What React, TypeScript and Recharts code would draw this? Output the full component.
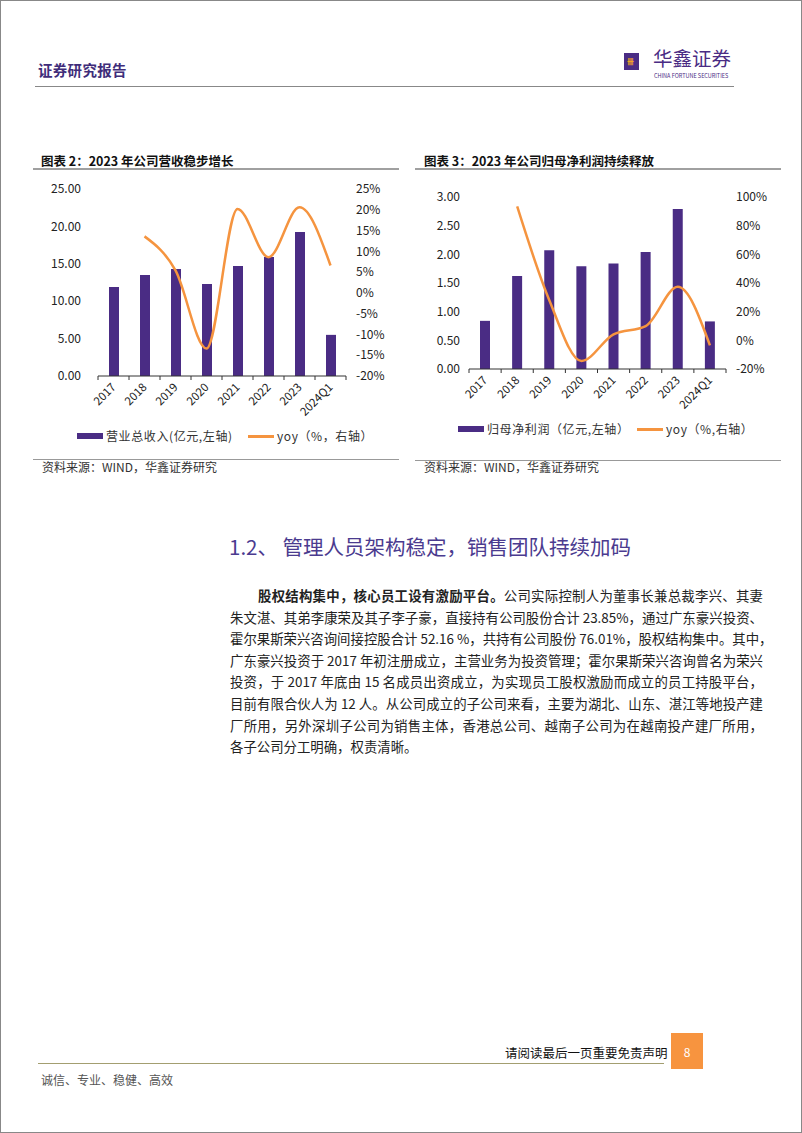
import React from "react";
import { Bar, ComposedChart, Line, XAxis, YAxis } from "recharts";

const categories = ["2017", "2018", "2019", "2020", "2021", "2022", "2023", "2024Q1"];

// 图表2：营业总收入（亿元）与同比
const revenue = [11.9, 13.5, 14.3, 12.3, 14.7, 15.9, 19.25, 5.5];
const revenueYoy = [null, 13.6, 5.4, -13.4, 20.2, 8.6, 20.6, 6.6];
const revenueTicks = [0, 5, 10, 15, 20, 25];
const revenueYoyTicks = [-20, -15, -10, -5, 0, 5, 10, 15, 20, 25];

// 图表3：归母净利润（亿元）与同比
const profit = [0.84, 1.62, 2.07, 1.79, 1.84, 2.04, 2.79, 0.83];
const profitYoy = [null, 93.4, 28, -14.4, 4.2, 9.9, 37.3, -3.5];
const profitTicks = [0, 0.5, 1, 1.5, 2, 2.5, 3];
const profitYoyTicks = [-20, 0, 20, 40, 60, 80, 100];

const PURPLE = "#4a2c84";
const ORANGE = "#f5943f";
const FONT = "'Noto Sans CJK SC', 'Noto Sans', sans-serif";

const paragraphLines = [
  "朱文湛、其弟李康荣及其子李子豪，直接持有公司股份合计 23.85%，通过广东豪兴投资、",
  "霍尔果斯荣兴咨询间接控股合计 52.16 %，共持有公司股份 76.01%，股权结构集中。其中，",
  "广东豪兴投资于 2017 年初注册成立，主营业务为投资管理；霍尔果斯荣兴咨询曾名为荣兴",
  "投资，于 2017 年底由 15 名成员出资成立，为实现员工股权激励而成立的员工持股平台，",
  "目前有限合伙人为 12 人。从公司成立的子公司来看，主要为湖北、山东、湛江等地投产建",
  "厂所用，另外深圳子公司为销售主体，香港总公司、越南子公司为在越南投产建厂所用，",
];

const makeXTick = (band: number, count: number) => (props: any) => {
  const { x, y, payload, index } = props;
  const tx = x + 3;
  const ty = y + 12;
  return (
    <g>
      <line x1={x - band / 2} x2={x - band / 2} y1={y} y2={y + 4} stroke="#333" />
      {index === count - 1 && (
        <line x1={x + band / 2} x2={x + band / 2} y1={y} y2={y + 4} stroke="#333" />
      )}
      <text
        x={tx}
        y={ty}
        transform={`rotate(-45 ${tx} ${ty})`}
        textAnchor="end"
        fontSize={11.5}
        fontFamily={FONT}
        fill="#222"
      >
        {payload.value}
      </text>
    </g>
  );
};

type ComboProps = {
  values: number[];
  yoy: (number | null)[];
  leftTicks: number[];
  rightTicks: number[];
  width: number;
  height: number;
  marginTop: number;
  leftWidth: number;
  leftOffset: number;
  decimals: number;
};

function ComboChart(p: ComboProps) {
  const data = categories.map((name, i) => ({ name, value: p.values[i], yoy: p.yoy[i] }));
  const band = (p.width - p.leftWidth - 55) / categories.length;
  const tickStyle = { fontSize: 12, fill: "#222", fontFamily: FONT };
  return (
    <ComposedChart
      width={p.width}
      height={p.height}
      data={data}
      margin={{ top: p.marginTop, right: 0, left: 0, bottom: 0 }}
    >
      <XAxis
        dataKey="name"
        interval={0}
        height={60}
        tickLine={false}
        tickSize={0}
        tickMargin={0}
        axisLine={{ stroke: "#333" }}
        tick={makeXTick(band, categories.length)}
      />
      <YAxis
        yAxisId="left"
        width={p.leftWidth}
        domain={[p.leftTicks[0], p.leftTicks[p.leftTicks.length - 1]]}
        ticks={p.leftTicks}
        interval={0}
        axisLine={false}
        tickLine={false}
        tickSize={0}
        tickMargin={p.leftOffset}
        tick={tickStyle}
        tickFormatter={(v: number) => v.toFixed(p.decimals)}
      />
      <YAxis
        yAxisId="right"
        orientation="right"
        width={55}
        domain={[p.rightTicks[0], p.rightTicks[p.rightTicks.length - 1]]}
        ticks={p.rightTicks}
        interval={0}
        axisLine={false}
        tickLine={false}
        tickSize={0}
        tickMargin={10}
        tick={tickStyle}
        tickFormatter={(v: number) => `${v}%`}
      />
      <Bar yAxisId="left" dataKey="value" fill={PURPLE} barSize={10} isAnimationActive={false} />
      <Line
        yAxisId="right"
        dataKey="yoy"
        type="monotone"
        stroke={ORANGE}
        strokeWidth={2.5}
        dot={false}
        activeDot={false}
        isAnimationActive={false}
      />
    </ComposedChart>
  );
}

const abs = (left: number, top: number, extra: React.CSSProperties = {}): React.CSSProperties => ({
  position: "absolute",
  left,
  top,
  ...extra,
});

function LegendItem({ left, top, kind, label }: { left: number; top: number; kind: "bar" | "line"; label: string }) {
  return (
    <div style={abs(left, top, { display: "flex", alignItems: "center", whiteSpace: "nowrap" })}>
      <div
        style={{
          width: 26,
          height: kind === "bar" ? 6 : 3,
          background: kind === "bar" ? PURPLE : ORANGE,
          marginRight: 3,
        }}
      />
      <span style={{ fontSize: 12, color: "#333", fontFamily: FONT, lineHeight: "16px", letterSpacing: 0.6 }}>
        {label}
      </span>
    </div>
  );
}

export default function App() {
  const lineText: React.CSSProperties = {
    position: "absolute",
    left: 229,
    width: 533,
    fontSize: 13.4,
    lineHeight: "20px",
    color: "#222",
    fontFamily: FONT,
    whiteSpace: "nowrap",
    textAlign: "justify",
    textAlignLast: "justify",
  };
  return (
    <div
      style={{
        position: "absolute",
        left: 0,
        top: 0,
        width: 802,
        height: 1133,
        boxSizing: "border-box",
        border: "1px solid #888",
        background: "#fff",
        fontFamily: FONT,
        overflow: "hidden",
      }}
    >
      {/* 页眉 */}
      <div style={abs(37, 58, { fontSize: 14.5, fontWeight: 700, color: "#3f2d7a", letterSpacing: 0.3 })}>
        证券研究报告
      </div>
      <div style={abs(623, 52, { width: 15, height: 17, background: "#4a2c84" })} />
      <div style={abs(626, 55, { fontSize: 7, color: "#f5a623", fontWeight: 700, lineHeight: "10px" })}>卌</div>
      <div style={abs(652, 47, { fontSize: 19.5, color: "#4a2c84", lineHeight: "20px" })}>华鑫证券</div>
      <div style={abs(653, 72, { fontSize: 5.5, color: "#4a2c84", whiteSpace: "nowrap", lineHeight: "6px" })}>
        CHINA FORTUNE SECURITIES
      </div>
      <div style={abs(34, 85, { width: 699, height: 1, background: "#888" })} />

      {/* 图表2 */}
      <div style={abs(40, 150, { fontSize: 12.5, fontWeight: 700, color: "#111", whiteSpace: "nowrap" })}>
        图表 2：2023 年公司营收稳步增长
      </div>
      <div style={abs(32, 167, { width: 366, height: 2, background: "#a0a0a0" })} />
      <div style={abs(30, 172)}>
        <ComboChart
          values={revenue}
          yoy={revenueYoy}
          leftTicks={revenueTicks}
          rightTicks={revenueYoyTicks}
          width={370}
          height={263}
          marginTop={16}
          leftWidth={67}
          leftOffset={17}
          decimals={2}
        />
      </div>
      <LegendItem left={76} top={427} kind="bar" label="营业总收入(亿元,左轴)" />
      <LegendItem left={247} top={427} kind="line" label="yoy（%，右轴）" />
      <div style={abs(32, 458, { width: 366, height: 1, background: "#999" })} />
      <div style={abs(41, 457, { fontSize: 12, color: "#333", whiteSpace: "nowrap" })}>
        资料来源：WIND，华鑫证券研究
      </div>

      {/* 图表3 */}
      <div style={abs(423, 150, { fontSize: 12.5, fontWeight: 700, color: "#111", whiteSpace: "nowrap" })}>
        图表 3：2023 年公司归母净利润持续释放
      </div>
      <div style={abs(414, 167, { width: 366, height: 2, background: "#a0a0a0" })} />
      <div style={abs(410, 178)}>
        <ComboChart
          values={profit}
          yoy={profitYoy}
          leftTicks={profitTicks}
          rightTicks={profitYoyTicks}
          width={370}
          height={250}
          marginTop={18}
          leftWidth={58}
          leftOffset={9}
          decimals={2}
        />
      </div>
      <LegendItem left={457} top={420} kind="bar" label="归母净利润（亿元,左轴）" />
      <LegendItem left={636} top={420} kind="line" label="yoy（%,右轴）" />
      <div style={abs(414, 459, { width: 366, height: 1, background: "#999" })} />
      <div style={abs(423, 457, { fontSize: 12, color: "#333", whiteSpace: "nowrap" })}>
        资料来源：WIND，华鑫证券研究
      </div>

      {/* 正文 */}
      <div style={abs(228, 531, { fontSize: 20.5, color: "#4b3b8f", whiteSpace: "nowrap", lineHeight: "28px" })}>
        1.2、 管理人员架构稳定，销售团队持续加码
      </div>
      <div style={{ ...lineText, top: 584, left: 257, width: 505 }}>
        <b>股权结构集中，核心员工设有激励平台。</b>公司实际控制人为董事长兼总裁李兴、其妻
      </div>
      {paragraphLines.map((t, i) => (
        <div key={i} style={{ ...lineText, top: 584 + (i + 1) * 21.6 }}>
          {t}
        </div>
      ))}
      <div style={{ ...lineText, top: 584 + 7 * 21.6, textAlign: "left", textAlignLast: "left" }}>
        各子公司分工明确，权责清晰。
      </div>

      {/* 页脚 */}
      <div style={abs(504, 1043, { fontSize: 12.5, color: "#111", whiteSpace: "nowrap", lineHeight: "18px" })}>
        请阅读最后一页重要免责声明
      </div>
      <div style={abs(37, 1062, { width: 626, height: 1, background: "#a39e70" })} />
      <div
        style={abs(670, 1032, {
          width: 32,
          height: 36,
          background: "#f7943f",
          color: "#fff",
          fontSize: 12,
          display: "flex",
          alignItems: "center",
          justifyContent: "center",
        })}
      >
        8
      </div>
      <div style={abs(40, 1071, { fontSize: 12, color: "#555", whiteSpace: "nowrap", lineHeight: "16px" })}>
        诚信、专业、稳健、高效
      </div>
    </div>
  );
}
